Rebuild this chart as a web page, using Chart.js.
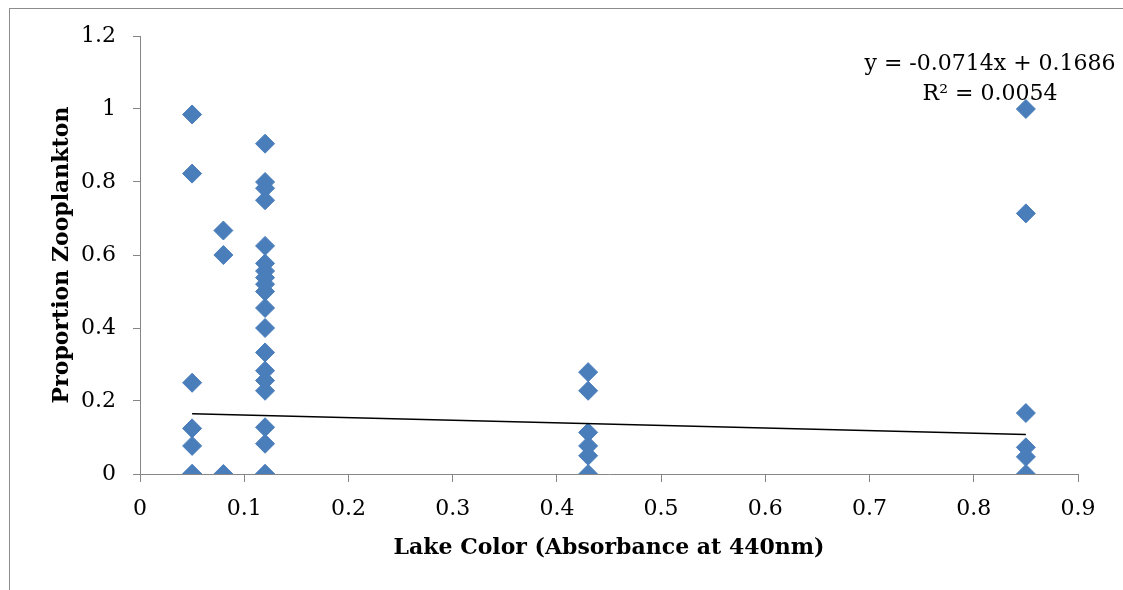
<!DOCTYPE html>
<html lang="en">
<head>
	<meta charset="UTF-8">
	<title>Proportion Zooplankton vs Lake Color</title>
	<style>
		html, body { margin: 0; padding: 0; background: #fff; }
		canvas { display: block; }
	</style>
</head>
<body>
	<canvas id="myChart" width="1123" height="590"></canvas>

	<script src="https://cdn.jsdelivr.net/npm/chart.js@4.4.0/dist/chart.umd.min.js"></script>
	<script type="text/javascript">

		// lake colour (absorbance at 440nm) and the proportions seen at each lake
		var lakeColor = [0.05, 0.08, 0.12, 0.43, 0.85];
		var propA = [0.985, 0.823, 0.25, 0.125, 0.077, 0, 0];
		var propB = [0.667, 0.6, 0];
		var propC = [0.905, 0.8, 0.783, 0.75, 0.625, 0.577, 0.556, 0.538, 0.52, 0.5,
			0.455, 0.4, 0.333, 0.283, 0.256, 0.228, 0.128, 0.083, 0, 0];
		var propD = [0.279, 0.228, 0.114, 0.077, 0.05, 0];
		var propE = [1.0, 0.714, 0.167, 0.073, 0.047, 0];

		// linear trend as printed on the chart
		var slope = -0.0714;
		var intercept = 0.1686;
		var rSquared = 0.0054;
		var trendX = [0.05, 0.85];

		var xTicks = [0, 0.1, 0.2, 0.3, 0.4, 0.5, 0.6, 0.7, 0.8, 0.9];
		var yTicks = [0, 0.2, 0.4, 0.6, 0.8, 1, 1.2];

		var groups = [propA, propB, propC, propD, propE];
		var points = [];
		groups.forEach(function(list, i) {
			list.forEach(function(v) {
				points.push({x: lakeColor[i], y: v});
			});
		});
		var trend = trendX.map(function(x) {
			return {x: x, y: intercept + slope * x};
		});

		var axisGray = '#868686';
		var tickFont = {family: '"DejaVu Serif", serif', size: 22};
		var titleFont = {family: '"DejaVu Serif", serif', size: 22, weight: 'bold'};

		var framePlugin = {
			id: 'frame',
			beforeDraw: function(chart) {
				var c = chart.ctx;
				c.save();
				c.fillStyle = '#fff';
				c.fillRect(0, 0, chart.width, chart.height);
				c.strokeStyle = '#8c8c8c';
				c.lineWidth = 1;
				c.strokeRect(9.5, 8.5, chart.width + 20, chart.height + 20);
				c.restore();
			}
		};

		var equationPlugin = {
			id: 'equation',
			afterDraw: function(chart) {
				var c = chart.ctx;
				c.save();
				c.fillStyle = '#000';
				c.font = '22px "DejaVu Serif", serif';
				c.textAlign = 'center';
				c.textBaseline = 'alphabetic';
				var sign = intercept >= 0 ? ' + ' : ' - ';
				c.fillText('y = ' + slope.toFixed(4) + 'x' + sign + Math.abs(intercept).toFixed(4), 990, 70);
				c.fillText('R\u00B2 = ' + rSquared.toFixed(4), 990, 100);
				c.restore();
			}
		};

		var ctx = document.getElementById('myChart').getContext('2d');
		var myChart = new Chart(ctx, {
			type: 'scatter',
			data: {
				datasets: [{
					label: 'Proportion Zooplankton',
					data: points,
					pointStyle: 'rectRot',
					pointRadius: 9.5,
					borderWidth: 1,
					backgroundColor: '#4A7EBB',
					borderColor: '#4A7EBB',
					order: 2
				}, {
					label: 'Linear trend',
					type: 'line',
					data: trend,
					borderColor: '#000',
					borderWidth: 1.5,
					pointRadius: 0,
					fill: false,
					order: 1
				}]
			},
			options: {
				responsive: false,
				animation: false,
				layout: {padding: {top: 36, right: 45, left: 0, bottom: 0}},
				plugins: {
					legend: {display: false},
					tooltip: {enabled: false}
				},
				scales: {
					x: {
						type: 'linear',
						min: 0,
						max: 0.9,
						afterBuildTicks: function(s) {
							s.ticks = xTicks.map(function(v) { return {value: v}; });
						},
						ticks: {
							color: '#000',
							font: tickFont,
							padding: 14,
							callback: function(v) { return String(Math.round(v * 10) / 10); }
						},
						grid: {drawOnChartArea: false, drawTicks: true, tickLength: 8, color: axisGray},
						border: {color: axisGray, width: 1},
						title: {
							display: true,
							text: 'Lake Color (Absorbance at 440nm)',
							color: '#000',
							font: titleFont,
							padding: {top: 0, bottom: 29}
						},
						afterFit: function(s) { s.height = 116; }
					},
					y: {
						type: 'linear',
						min: 0,
						max: 1.2,
						afterBuildTicks: function(s) {
							s.ticks = yTicks.map(function(v) { return {value: v}; });
						},
						ticks: {
							color: '#000',
							font: tickFont,
							padding: 17,
							callback: function(v) { return String(Math.round(v * 10) / 10); }
						},
						grid: {drawOnChartArea: false, drawTicks: true, tickLength: 7, color: axisGray},
						border: {color: axisGray, width: 1},
						title: {
							display: true,
							text: 'Proportion Zooplankton',
							color: '#000',
							font: titleFont,
							padding: {top: 49, bottom: 0}
						},
						afterFit: function(s) { s.width = 140; }
					}
				}
			},
			plugins: [framePlugin, equationPlugin]
		});
	</script>
</body>
</html>
